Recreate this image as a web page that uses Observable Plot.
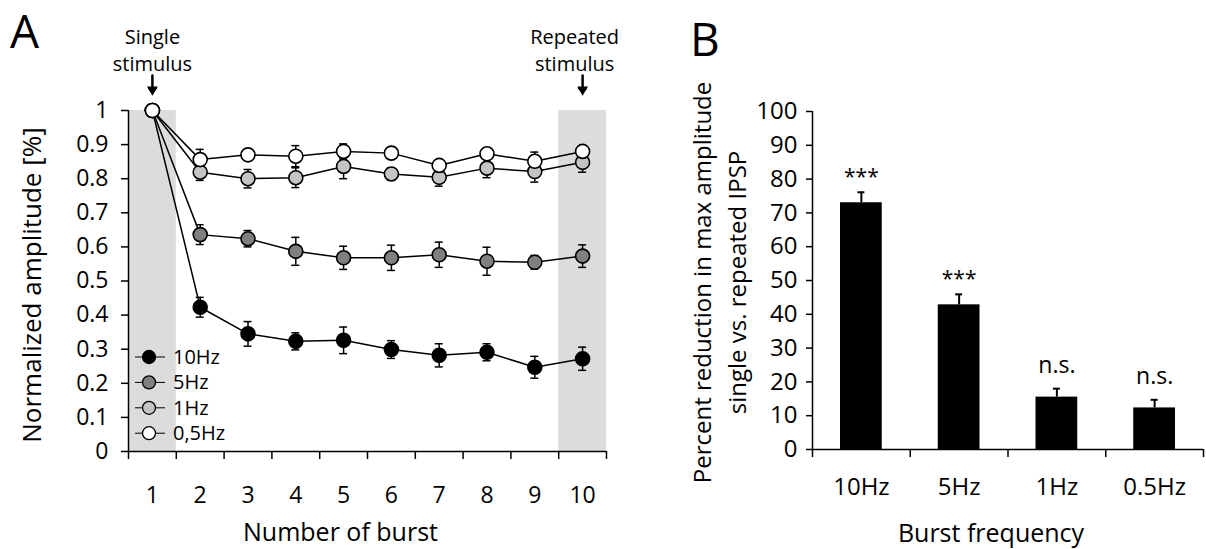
<!DOCTYPE html>
<html>
<head>
<meta charset="utf-8">
<script src="https://cdn.jsdelivr.net/npm/d3@7"></script>
<script src="https://cdn.jsdelivr.net/npm/@observablehq/plot@0.6"></script>
<style>
  html, body { margin: 0; padding: 0; background: #fff; }
  #root { position: relative; width: 1206px; height: 549px; overflow: hidden; font-family: 'Open Sans', 'Noto Sans', sans-serif; }
  .panel { position: absolute; top: 0; }
</style>
</head>
<body>
<div id="root"></div>
<script>
// ---------- Data ----------
const bursts = [1, 2, 3, 4, 5, 6, 7, 8, 9, 10];
const seriesNames = ["10Hz", "5Hz", "1Hz", "0,5Hz"];
const amp10 = [1, 0.423, 0.345, 0.323, 0.326, 0.299, 0.282, 0.291, 0.247, 0.272];
const err10 = [0, 0.029, 0.036, 0.025, 0.039, 0.026, 0.034, 0.025, 0.032, 0.034];
const amp5  = [1, 0.636, 0.624, 0.587, 0.568, 0.568, 0.577, 0.558, 0.555, 0.573];
const err5  = [0, 0.029, 0.024, 0.041, 0.034, 0.037, 0.037, 0.041, 0.020, 0.033];
const amp1  = [1, 0.819, 0.800, 0.803, 0.836, 0.814, 0.804, 0.831, 0.821, 0.848];
const err1  = [0, 0.024, 0.027, 0.029, 0.036, 0.018, 0.026, 0.028, 0.031, 0.029];
const amp05 = [1, 0.856, 0.870, 0.866, 0.880, 0.875, 0.839, 0.873, 0.851, 0.880];
const err05 = [0, 0.030, 0.015, 0.031, 0.022, 0.015, 0.015, 0.015, 0.027, 0.015];
const shadedBursts = [1, 10];
const stimBursts = [1, 10];
const stimLabels = ["Single\nstimulus", "Repeated\nstimulus"];
const yTicksA = [0, 0.1, 0.2, 0.3, 0.4, 0.5, 0.6, 0.7, 0.8, 0.9, 1];

const freqs = ["10Hz", "5Hz", "1Hz", "0.5Hz"];
const reduction = [73.0, 42.8, 15.5, 12.3];
const reductionSem = [3.1, 3.1, 2.5, 2.4];
const significance = ["***", "***", "n.s.", "n.s."];
const yTicksB = [0, 10, 20, 30, 40, 50, 60, 70, 80, 90, 100];

// ---------- Styles ----------
const FONT = "'Open Sans', 'Noto Sans', sans-serif";
const seriesFill = ["#000000", "#808080", "#c4c4c4", "#ffffff"];

// ---------- Tables ----------
const ampArrays = [amp10, amp5, amp1, amp05];
const errArrays = [err10, err5, err1, err05];
const rowsA = [];
seriesNames.forEach((s, k) => bursts.forEach((b, i) => rowsA.push({series: s, burst: b, amp: ampArrays[k][i], err: errArrays[k][i]})));
const errRowsA = rowsA.filter(d => d.err > 0);
const stim = stimBursts.map((b, i) => ({burst: b, label: stimLabels[i]}));
const rowsB = freqs.map((f, i) => ({freq: f, pos: i, value: reduction[i], sem: reductionSem[i], sig: significance[i]}));

const root = document.getElementById("root");

// ---------- Panel A ----------
const plotA = Plot.plot({
  width: 660, height: 549,
  marginLeft: 128, marginRight: 54, marginTop: 110, marginBottom: 98,
  style: {fontFamily: FONT, fontSize: "22px", color: "#000", background: "transparent", overflow: "visible"},
  x: {domain: [0.5, 10.5]},
  y: {domain: [0, 1]},
  color: {domain: seriesNames, range: seriesFill},
  marks: [
    Plot.rect(shadedBursts, {x1: d => d - 0.5, x2: d => d + 0.5, y1: 0, y2: 1, fill: "#dcdcdc"}),
    Plot.axisY({ticks: yTicksA, tickSize: 7, tickPadding: 13, strokeWidth: 1.5, fontSize: 23,
      tickFormat: d => String(+d.toFixed(1)), label: null}),
    Plot.axisX({ticks: d3.range(0.5, 11, 1), tickSize: 8, strokeWidth: 1.5, tickFormat: () => "", label: null}),
    Plot.axisX({ticks: bursts, tickSize: 0, tickPadding: 35, fontSize: 23, tickFormat: d => String(d), label: null}),
    Plot.ruleX([0.5], {strokeWidth: 1.5}),
    Plot.ruleY([0], {strokeWidth: 1.5}),
    // error bars
    Plot.ruleX(errRowsA, {x: "burst", y1: d => d.amp - d.err, y2: d => d.amp + d.err, strokeWidth: 1.5}),
    Plot.ruleY(errRowsA, {y: d => d.amp + d.err, x1: "burst", x2: "burst", insetLeft: -4, insetRight: -4, strokeWidth: 1.5}),
    Plot.ruleY(errRowsA, {y: d => d.amp - d.err, x1: "burst", x2: "burst", insetLeft: -4, insetRight: -4, strokeWidth: 1.5}),
    // lines and dots
    Plot.line(rowsA, {x: "burst", y: "amp", z: "series", stroke: "#000", strokeWidth: 1.5}),
    Plot.dot(rowsA, {x: "burst", y: "amp", fill: "series", stroke: "#000", strokeWidth: 1.6, r: 7}),
    // stimulus annotations
    Plot.text(stim.filter(d => d.burst === 1), {x: "burst", text: "label", frameAnchor: "top", lineAnchor: "bottom", dy: -40, lineHeight: 1.35, fontSize: 20}),
    Plot.text(stim.filter(d => d.burst === 10), {x: "burst", text: "label", frameAnchor: "top", lineAnchor: "bottom", dy: -40, dx: -8, lineHeight: 1.35, fontSize: 20}),
    Plot.vector(stim, {x: "burst", frameAnchor: "top", dy: -35, length: 16, rotate: 180, anchor: "start", strokeWidth: 2.5, stroke: "#000"}),
    Plot.dot(stim, {x: "burst", frameAnchor: "top", dy: -21, symbol: "triangle", rotate: 180, r: 4, fill: "#000", stroke: "none"}),
    // titles
    Plot.text(["Normalized amplitude [%]"], {frameAnchor: "left", text: d => d, rotate: -90, textAnchor: "middle", dx: -96, dy: 4, fontSize: 26, lineAnchor: "middle"}),
    Plot.text(["Number of burst"], {frameAnchor: "bottom", text: d => d, textAnchor: "middle", dx: -27, dy: 89, fontSize: 25, lineAnchor: "bottom"})
  ]
});
plotA.classList.add("panel");
plotA.style.left = "0px";
root.appendChild(plotA);

// ---------- Panel B ----------
const plotB = Plot.plot({
  width: 546, height: 549,
  marginLeft: 152, marginRight: 3, marginTop: 111, marginBottom: 100,
  style: {fontFamily: FONT, fontSize: "24px", color: "#000", background: "transparent", overflow: "visible"},
  x: {domain: [0, 4]},
  y: {domain: [0, 100]},
  marks: [
    Plot.rectY(rowsB, {x1: "pos", x2: d => d.pos + 1, y: "value", fill: "#000", insetLeft: 28, insetRight: 28}),
    Plot.ruleX(rowsB, {x: d => d.pos + 0.5, y1: "value", y2: d => d.value + d.sem, strokeWidth: 2}),
    Plot.ruleY(rowsB, {y: d => d.value + d.sem, x1: d => d.pos + 0.5, x2: d => d.pos + 0.5, insetLeft: -3.5, insetRight: -3.5, strokeWidth: 2}),
    Plot.axisY({ticks: yTicksB, tickSize: 6, tickPadding: 9, strokeWidth: 1.5, fontSize: 24, tickFormat: d => String(d), label: null}),
    Plot.axisX({ticks: [0, 1, 2, 3, 4], tickSize: 8, strokeWidth: 1.5, tickFormat: () => "", label: null}),
    Plot.axisX({ticks: [0.5, 1.5, 2.5, 3.5], tickSize: 0, tickPadding: 28, fontSize: 24, tickFormat: d => freqs[Math.floor(d)], label: null}),
    Plot.ruleX([0], {strokeWidth: 1.5}),
    Plot.ruleY([0], {strokeWidth: 1.5}),
    Plot.text(rowsB.filter(d => d.sig === "***"), {x: d => d.pos + 0.5, y: d => d.value + d.sem, text: "sig", lineAnchor: "bottom", dy: -8, fontSize: 21}),
    Plot.text(rowsB.filter(d => d.sig !== "***"), {x: d => d.pos + 0.5, y: d => d.value + d.sem, text: "sig", lineAnchor: "bottom", dy: -16, fontSize: 23}),
    Plot.text(["Percent reduction in max amplitude\nsingle vs. repeated IPSP"], {frameAnchor: "left", text: d => d, rotate: -90, textAnchor: "middle", dx: -95, dy: 2, fontSize: 24, lineHeight: 1.45, lineAnchor: "middle"}),
    Plot.text(["Burst frequency"], {frameAnchor: "bottom", text: d => d, textAnchor: "middle", dx: -17, dy: 92, fontSize: 25, lineAnchor: "bottom"})
  ]
});
plotB.classList.add("panel");
plotB.style.left = "660px";
root.appendChild(plotB);

// ---------- Overlay: legend (inside panel A) and panel letters ----------
const ov = d3.select(root).append("svg")
  .attr("width", 1206).attr("height", 549)
  .style("position", "absolute").style("left", "0px").style("top", "0px")
  .style("pointer-events", "none")
  .style("font-family", FONT);
seriesNames.forEach((s, i) => {
  const g = ov.append("g").attr("transform", `translate(128, ${357 + i * 25.4})`);
  g.append("line").attr("x1", 7).attr("x2", 37).attr("y1", 0).attr("y2", 0).attr("stroke", "#000").attr("stroke-width", 1);
  g.append("circle").attr("cx", 21).attr("cy", 0).attr("r", 6.5).attr("fill", seriesFill[i]).attr("stroke", "#000").attr("stroke-width", 1.3);
  g.append("text").attr("x", 45).attr("y", 0).attr("dy", "0.35em").attr("font-size", 20).text(s);
});
ov.append("text").attr("x", 10).attr("y", 48).attr("font-size", 46).text("A");
ov.append("text").attr("x", 690).attr("y", 56).attr("font-size", 46).text("B");
</script>
</body>
</html>
